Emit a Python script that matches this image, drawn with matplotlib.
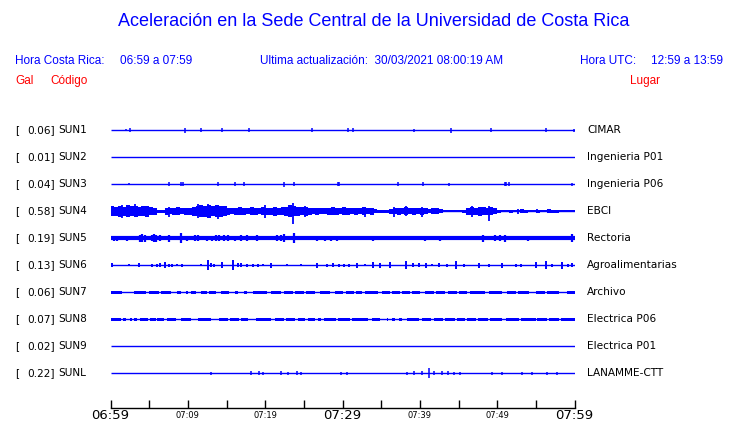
import matplotlib.pyplot as plt
import numpy as np

# --- datos ---
codigos = ["SUN1", "SUN2", "SUN3", "SUN4", "SUN5", "SUN6", "SUN7", "SUN8", "SUN9", "SUNL"]
gal = ["0.06", "0.01", "0.04", "0.58", "0.19", "0.13", "0.06", "0.07", "0.02", "0.22"]
lugares = ["CIMAR", "Ingenieria P01", "Ingenieria P06", "EBCI", "Rectoria",
           "Agroalimentarias", "Archivo", "Electrica P06", "Electrica P01", "LANAMME-CTT"]
ticks_lbl = ["06:59", "07:09", "07:19", "07:29", "07:39", "07:49", "07:59"]

# picos (minuto, semiamplitud px)
sun1_t = [2.04, 2.56, 9.57, 11.73, 14.45, 17.96, 26.06, 30.69, 31.34, 39.26, 44.06, 49.26, 56.27, 59.9]
sun1_a = [1.2, 2.2, 2.5, 2.2, 2.2, 2.2, 2.2, 2.2, 2.2, 1.5, 2.5, 2.2, 2.2, 1.5]
sun3_t = [2.38, 7.57, 9.13, 9.35, 13.94, 16.14, 17.31, 22.43, 23.68, 29.39, 29.57, 37.18, 40.43, 43.81,
          50.95, 51.17, 51.47, 59.65]
sun3_a = [1.2, 2.2, 2.2, 2, 2.2, 2.2, 2.2, 2.5, 2.2, 2.2, 2.2, 2.2, 2.2, 1.5, 2.2, 2, 2.2, 1.5]

# envolvente SUN4 cada medio minuto
sun4_env = [5, 4.5, 5.5, 4.5, 6, 5, 5.5, 4.5, 5, 5.5,
            4, 3.5,
            1.5, 1.5,
            3.5, 3, 3.5, 4, 3, 3.5,
            3.5, 4.5,
            5, 6, 5.5, 6.5, 5, 6, 5.5, 5,
            3.5, 3,
            3.5, 4, 3.5, 3, 4, 3.5, 3, 4, 3.5, 3.5, 4.5, 3.5, 4, 4.5,
            6, 5,
            4.5, 4, 4.5, 3.5,
            3, 3.5, 3, 3, 3.5, 4, 3.5, 3, 4, 3.5, 3, 3.5, 3, 4, 3, 3.5,
            2, 1.5, 1.5, 1.5,
            2.5, 3, 3.5, 3, 4, 3, 3.5, 3, 3.5, 3,
            2, 3, 3, 2,
            1, 1, 1, 1, 1, 1.5,
            3.5, 4, 3.5, 4.5, 4, 3.5, 4, 3,
            1.5, 1, 1, 1.5, 1, 1, 2, 1.5, 1, 1, 1.5, 1, 1, 2, 1.5, 1.5, 1, 1, 1, 1]
sun4_t = [1.5, 3.2, 7.6, 11.3, 12.6, 13.9, 20.0, 23.6, 25.1, 32.9, 36.6, 38.2, 40.3, 46.7, 49.0, 52.7, 55.2]
sun4_up = [6.5, 7, 4.5, 7, 7.5, 6.5, 6, 8, 5.5, 4.5, 4.5, 5, 4.5, 5.5, 5.5, 2.5, 2.5]
sun4_dn = [6.5, 6, 5.5, 6.5, 6.5, 8, 6.5, 13, 5.5, 6, 5.5, 5, 6, 5.5, 10, 2.5, 2]

sun5_t = [0.43, 0.87, 2.08, 2.81, 3.77, 4.11, 4.42, 5.41, 5.63, 5.84, 6.36, 7.58, 9.09, 9.83, 10.91,
          11.26, 12.47, 13.07, 13.64, 14.07, 14.72, 15.15, 16.06, 16.88, 17.66, 18.88, 21.56, 22.08,
          22.43, 23.72, 25.76, 26.71, 27.71, 28.57, 29.35, 32.68, 33.9, 37.45, 40.69, 42.64, 43.2,
          45.45, 46.45, 48.14, 49.78, 50.43, 51.0, 52.68, 53.98, 55.58, 56.71, 57.92, 59.74]
sun5_a = [2.5, 2.5, 2.5, 2, 3.5, 4, 3.5, 3, 4, 3.5, 3, 3.5, 5, 2.5, 3, 3, 2.5, 2.5, 3, 3, 3, 3, 2.5,
          3, 3, 3, 3, 3, 4, 5, 2, 2.5, 2.5, 2.5, 2.5, 2, 2.5, 2, 2.5, 2.5, 2, 2, 2, 3.5, 3, 3, 3.5,
          2, 2.5, 2, 2, 2, 4]

sun6_t = [0.22, 2.38, 3.68, 5.41, 6.06, 6.41, 7.06, 7.58, 8.01, 8.57, 9.31, 11.69, 12.64, 12.99, 13.42,
          14.46, 15.84, 16.54, 16.88, 17.62, 18.4, 19.05, 19.78, 20.69, 22.86, 24.59, 26.71, 28.01,
          28.79, 29.52, 30.13, 30.82, 31.82, 32.9, 33.98, 34.81, 36.15, 38.18, 39.18, 39.91, 40.82,
          41.56, 42.42, 43.51, 44.72, 45.67, 47.71, 48.92, 50.65, 52.47, 53.03, 54.98, 56.28, 57.14,
          58.44, 59.22, 59.74]
sun6_a = [2, 1, 2, 1.5, 1.5, 2, 3, 1.5, 1.5, 1, 1.5, 1, 5, 2, 1.5, 3, 5, 2, 2, 1.5, 1.5, 1.5, 1,
          2.5, 1, 1, 2.5, 1.5, 2, 1.5, 1.5, 1.5, 2.5, 1, 3, 2.5, 3, 4, 2, 2, 2.5, 1, 2, 1.5, 4, 1.5,
          2.5, 1.5, 2.5, 1.5, 1.5, 3, 4, 1.5, 3.5, 1.5, 2]

# rafagas (inicio, fin) en minutos
sun7_ini = [0.0, 3.03, 4.98, 6.49, 8.57, 9.74, 10.39, 11.69, 12.8, 14.29, 16.1, 17.32, 18.48, 20.74,
            22.42, 23.9, 25.3, 27.06, 29.0, 30.4, 31.8, 32.9, 35.07, 36.4, 37.66, 39.0, 40.69, 42.1,
            43.6, 45.1, 46.54, 48.92, 51.3, 52.7, 54.98, 56.5, 59.09]
sun7_fin = [1.52, 4.55, 6.28, 7.79, 9.18, 10.04, 11.04, 12.5, 13.64, 15.37, 16.45, 17.66, 20.3, 22.08,
            23.6, 25.0, 26.41, 28.35, 30.1, 31.5, 32.47, 34.63, 36.1, 37.45, 38.7, 40.04, 41.8, 43.3,
            44.8, 46.1, 48.49, 50.65, 52.4, 54.11, 56.2, 58.01, 60.0]
sun8_ini = [0.0, 1.65, 2.51, 3.03, 3.81, 5.1, 6.06, 7.36, 9.09, 11.26, 14.07, 15.5, 16.9, 18.83, 21.21,
            22.7, 24.2, 25.5, 26.84, 27.62, 29.44, 31.17, 33.77, 35.71, 36.36, 37.36, 38.31, 40.26,
            41.8, 43.3, 44.8, 46.1, 47.5, 49.1, 51.08, 53.03, 55.2, 56.7, 58.3]
sun8_fin = [1.3, 1.95, 2.81, 3.46, 4.8, 5.84, 6.93, 8.44, 10.39, 12.99, 15.2, 16.6, 17.75, 20.78, 22.4,
            23.9, 25.2, 26.41, 27.27, 29.22, 30.95, 33.33, 34.85, 35.93, 36.8, 37.66, 39.83, 41.5,
            43.0, 44.5, 45.89, 47.2, 48.8, 50.65, 52.81, 54.98, 56.4, 58.0, 60.0]

sunl_t = [12.99, 18.18, 19.22, 19.74, 22.08, 22.99, 24.16, 24.68, 29.87, 30.52, 38.31, 39.22, 40.26,
          41.17, 41.82, 42.86, 43.64, 44.42, 45.2, 49.35, 50.65, 53.25, 54.55, 56.49, 57.79]
sunl_a = [1.5, 2, 2, 1.5, 2, 1.5, 2, 1.5, 1.5, 1.5, 1.5, 2, 2, 5, 2, 2, 2, 1.5, 1.5, 1.5, 1.5, 1.5,
          1.5, 1.5, 1.5]

AZUL = '#0000ff'
ROJO = '#ff0000'
W, H = 740, 423

fig = plt.figure(figsize=(7.4, 4.23), dpi=100)
ax = fig.add_axes([110.5 / W, 0, 464 / W, 1])
ax.set_xlim(0, 60)
ax.set_ylim(H, 0)
ax.axis('off')


def ftxt(x, y, s, **kw):
    fig.text(x / W, 1 - y / H, s, **kw)


filas = [130.3 + 27 * i for i in range(len(codigos))]

for i, y in enumerate(filas):
    ax.plot([0, 60], [y, y], color=AZUL, lw=1.0, solid_capstyle='butt')

# SUN1, SUN3, SUNL
for idx, tt, aa in [(0, sun1_t, sun1_a), (2, sun3_t, sun3_a), (9, sunl_t, sunl_a)]:
    y = filas[idx]
    ax.vlines(tt, [y - a for a in aa], [y + a for a in aa], color=AZUL, lw=1.1)

# SUN4
y = filas[3]
env = np.array(sun4_env)
tm = np.arange(len(env)) * 0.5 + 0.25
ax.vlines(tm, y - env, y + env, color=AZUL, lw=2.9)
ax.vlines(sun4_t, [y - u for u in sun4_up], [y + d for d in sun4_dn], color=AZUL, lw=1.3)

# SUN5
y = filas[4]
ax.plot([0, 60], [y, y], color=AZUL, lw=3.0, solid_capstyle='butt')
ax.vlines(sun5_t, [y - a for a in sun5_a], [y + a for a in sun5_a], color=AZUL, lw=1.6)

# SUN6
y = filas[5]
ax.vlines(sun6_t, [y - a for a in sun6_a], [y + a for a in sun6_a], color=AZUL, lw=1.4)

# SUN7, SUN8
for idx, ini, fin in [(6, sun7_ini, sun7_fin), (7, sun8_ini, sun8_fin)]:
    y = filas[idx]
    for a, b in zip(ini, fin):
        ax.fill_between([a, b], y - 1.5, y + 1.5, color=AZUL, lw=0)

# etiquetas de estaciones
for i, y in enumerate(filas):
    ftxt(15, y, "[", fontsize=7.6, color='black', va='center', family='DejaVu Sans')
    ftxt(55, y, gal[i] + "]", fontsize=7.6, color='black', va='center', ha='right', family='DejaVu Sans')
    ftxt(58, y, codigos[i], fontsize=7.6, color='black', va='center', family='DejaVu Sans')
    ftxt(587, y, lugares[i], fontsize=7.6, color='black', va='center', family='DejaVu Sans')

# eje de tiempo
ya = 408.5
ax.plot([0, 60], [ya, ya], color='black', lw=1.0, clip_on=False)
ax.vlines(np.arange(0, 61, 5), ya - 8, ya, color='black', lw=1.0, clip_on=False)
for k, lbl in enumerate(ticks_lbl):
    grande = k in (0, 3, 6)
    ax.text(k * 10, 415.5, lbl, ha='center', va='center', fontsize=9.5 if grande else 6,
            family='DejaVu Sans', color='black', clip_on=False)

# encabezado
ftxt(374, 22, "Aceleración en la Sede Central de la Universidad de Costa Rica", fontsize=13,
     color=AZUL, ha='center', va='center', family='Liberation Sans')
hk = dict(fontsize=8.5, color=AZUL, va='center', family='Liberation Sans')
ftxt(15, 61, "Hora Costa Rica:", **hk)
ftxt(120, 61, "06:59 a 07:59", **hk)
ftxt(260, 61, "Ultima actualización:  30/03/2021 08:00:19 AM", **hk)
ftxt(580, 61, "Hora UTC:", **hk)
ftxt(651, 61, "12:59 a 13:59", **hk)
rk = dict(fontsize=8.5, color=ROJO, va='center', family='Liberation Sans')
ftxt(15, 81, "Gal", **rk)
ftxt(50, 81, "Código", **rk)
ftxt(630, 81, "Lugar", **rk)

fig.savefig("out.png", dpi=100, facecolor='white')
